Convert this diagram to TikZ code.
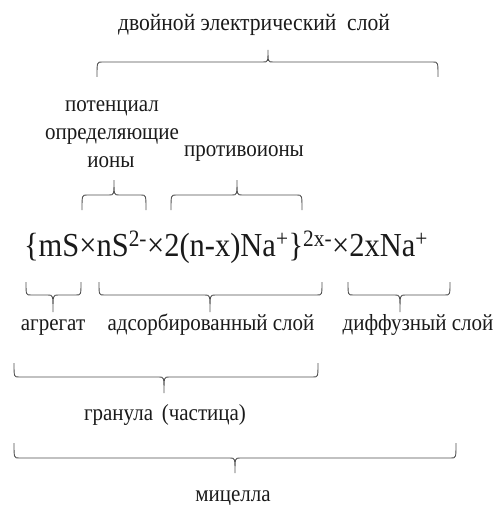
\documentclass[tikz,border=0pt]{standalone}
\usepackage{fontspec}
\setmainfont{Liberation Serif}
\definecolor{bracegray}{HTML}{505050}
\definecolor{inkblack}{HTML}{1A1A1A}
\newcommand{\tallbox}[1]{\scalebox{1}[1.1]{#1}}
\tikzset{
  bracepath/.style={draw=bracegray, line width=0.9pt},
  lbl/.style={anchor=base, inner sep=0pt, text=inkblack, font=\fontsize{21}{24}\selectfont},
  formula/.style={anchor=base, inner sep=0pt, text=inkblack, font=\fontsize{30.5}{36}\selectfont}
}
% #1 left x, #2 right x, #3 tip x, #4 y of the ends, #5 y of the bar, #6 y of the tip
\newcommand{\wordbrace}[6]{%
  \draw[bracepath] (#1,#4) .. controls (#1,#5) and (#1,#5) .. (#1+5,#5)
    -- (#3-5,#5) .. controls (#3,#5) .. (#3,#6)
    .. controls (#3,#5) .. (#3+5,#5)
    -- (#2-5,#5) .. controls (#2,#5) and (#2,#5) .. (#2,#4);}
\begin{document}
\begin{tikzpicture}[x=1pt,y=-1pt]
\useasboundingbox (0,0) rectangle (502,505);

% labels above the formula
\node[lbl, font=\fontsize{21.6}{26}\selectfont] (des) at (254,31) {\tallbox{двойной электрический\ \ слой}};
\node[lbl] (pot1) at (112,112) {\tallbox{потенциал}};
\node[lbl] (pot2) at (112,140) {\tallbox{определяющие}};
\node[lbl] (pot3) at (111,167) {\tallbox{ионы}};
\node[lbl] (prot) at (244,157) {\tallbox{противоионы}};

% braces above the formula
\wordbrace{97}{438}{268}{77}{62}{50}
\wordbrace{82}{146}{114}{210}{195}{180}
\wordbrace{171}{302}{237}{210}{195}{180}

% the micelle formula
\node[formula] (mic) at (226,256) {\tallbox{\{mS×nS\textsuperscript{2-}×2(n-x)Na\textsuperscript{+}\}\textsuperscript{2x-}×2xNa\textsuperscript{+}}};

% braces below the formula
\wordbrace{26}{81}{53}{282}{295}{312}
\wordbrace{99}{322}{210}{282}{295}{312}
\wordbrace{348}{450}{400}{282}{295}{312}

\node[lbl] (agg) at (53,330) {\tallbox{агрегат}};
\node[lbl] (ads) at (211,330) {\tallbox{адсорбированный слой}};
\node[lbl] (dif) at (418,330) {\tallbox{диффузный слой}};

\wordbrace{14}{318}{164}{363}{377}{393}
\node[lbl] (gran) at (165,420) {\tallbox{гранула\ \,(частица)}};

\wordbrace{14}{456}{235}{443}{458}{473}
\node[lbl] (mcl) at (233,501) {\tallbox{мицелла}};
\end{tikzpicture}
\end{document}
